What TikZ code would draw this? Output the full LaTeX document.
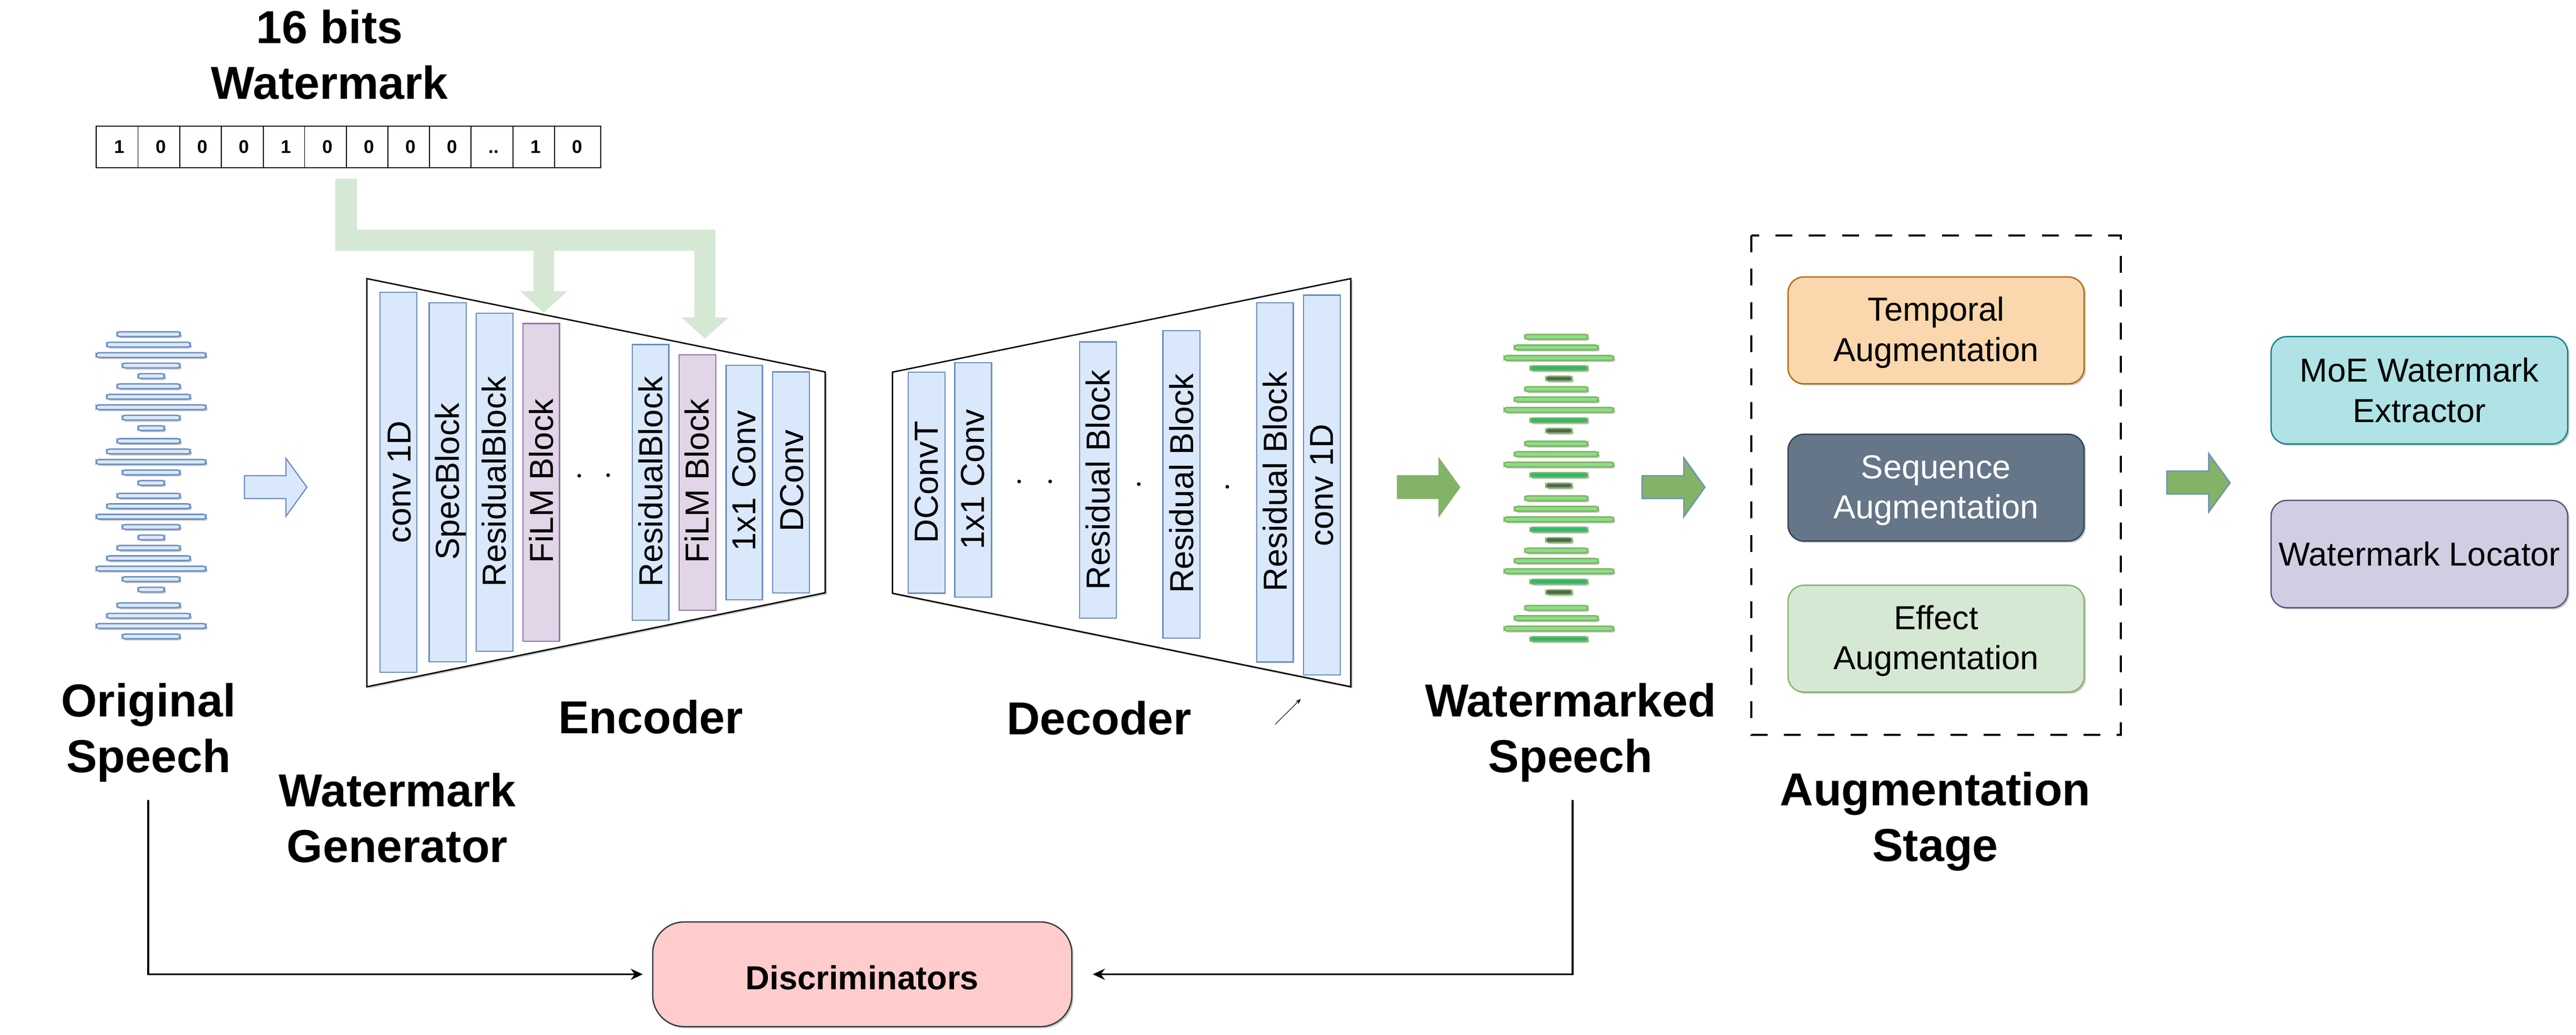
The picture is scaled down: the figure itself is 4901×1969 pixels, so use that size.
\documentclass[tikz,border=0pt]{standalone}
\usepackage{fontspec}
\setmainfont{Liberation Sans}
\usetikzlibrary{shadows,arrows.meta}
\definecolor{bluefill}{HTML}{DAE8FC}
\definecolor{bluedraw}{HTML}{6C8EBF}
\definecolor{purpfill}{HTML}{E1D5E7}
\definecolor{purpdraw}{HTML}{9673A6}
\definecolor{paleg}{HTML}{D5E8D4}
\definecolor{midg}{HTML}{82B366}
\definecolor{wavea}{HTML}{8ADF84}
\definecolor{waved}{HTML}{2DB96B}
\definecolor{wavee}{HTML}{52664F}
\definecolor{orfill}{HTML}{FAD7AC}
\definecolor{ordraw}{HTML}{B46504}
\definecolor{slfill}{HTML}{647687}
\definecolor{sldraw}{HTML}{314354}
\definecolor{tefill}{HTML}{B0E3E6}
\definecolor{tedraw}{HTML}{0E8088}
\definecolor{lafill}{HTML}{D0CEE2}
\definecolor{ladraw}{HTML}{56517E}
\definecolor{pkfill}{HTML}{FFCCCC}
\definecolor{pkdraw}{HTML}{36393D}
\tikzset{
  softshadow/.style={drop shadow={shadow xshift=0.9pt,shadow yshift=-0.9pt,opacity=0.22,fill=black}},
  biglabel/.style={font=\fontsize{25}{30.2}\selectfont\bfseries,align=center,inner sep=0pt},
  boxlabel/.style={font=\fontsize{18}{21.7}\selectfont,align=center,inner sep=0pt},
  roundbox/.style={boxlabel,rounded corners=8.5pt,line width=0.7pt,softshadow},
  blocklabel/.style={font=\fontsize{18}{21.6}\selectfont,rotate=90,anchor=base,inner sep=0pt},
  bluebk/.style={fill=bluefill,draw=bluedraw,line width=0.65pt,inner sep=0pt},
  purpbk/.style={fill=purpfill,draw=purpdraw,line width=0.65pt,inner sep=0pt},
  trapez/.style={fill=white,draw=black,line width=0.75pt,line join=miter,softshadow},
  bitcell/.style={draw=black,line width=0.55pt,fill=white},
  bittext/.style={font=\fontsize{10}{12}\selectfont\bfseries,anchor=base,inner sep=0pt},
  wavebar/.style={line width=0.75pt,rounded corners=1.3pt,softshadow},
  dotmark/.style={fill=black,circle,inner sep=0pt,minimum size=2pt},
  connect/.style={draw=black,line width=1.05pt,-{Stealth[length=6.5pt,width=6pt]}},
}
\newcommand{\blockbox}[6]{%
  \pgfmathsetmacro{\bw}{(#3-#2)*0.01}\pgfmathsetmacro{\bh}{(#5-#4)*0.01}%
  \node[#6,minimum width=\bw cm,minimum height=\bh cm] (#1) at ({(#2+#3)/2},{(#4+#5)/2}) {};}
\newcommand{\lowlines}[2]{\raisebox{-1.5pt}[\height][\depth]{\begin{tabular}{@{}c@{}}#1\\#2\end{tabular}}}
\begin{document}
\begin{tikzpicture}[x=0.01cm,y=-0.01cm]
\useasboundingbox (0,0) rectangle (4901,1969);

% watermark bits
\node[biglabel] (wmtitle) at (627,104) {16 bits\\Watermark};
\foreach \a/\b [count=\i] in {183/262.5,262.5/342,342/421,421/501,501/579.5,579.5/659,659/738,738/817,817/896,896/976,976/1055,1055/1143}
  \path[bitcell] (\a,240) rectangle (\b,319);
\foreach \x/\t [count=\i] in {226.8/1,306/0,385.7/0,464.3/0,543.8/1,623/0,702.7/0,781/0,860/0,939/..,1018.8/1,1098/0}
  \node[bittext] (bit\i) at (\x,291.7) {\t};

% wide green feed
\fill[paleg] (638,340) -- (679,340) -- (679,437) -- (1361,437) -- (1361,603.5) -- (1387,603.5)
  -- (1341,644) -- (1296,603.5) -- (1321,603.5) -- (1321,477) -- (1054,477) -- (1054,554) -- (1079,554)
  -- (1034.5,595) -- (990,554) -- (1015,554) -- (1015,477) -- (638,477) -- cycle;

% original speech
\foreach \y/\a/\b in {635.7/222.7/342.7,655.6/203/362,675.5/183/391.7,695.4/232.7/342.3,715.4/262.7/312.7,
  734.9/222.7/342.7,754.8/203/362,774.7/183/391.7,794.6/232.7/342.3,814.5/262.7/312.7,
  839/222.7/342.7,858.9/203/362,878.8/183/391.7,898.8/232.7/342.3,918.7/262.7/312.7,
  943.1/222.7/342.7,963/203/362,983/183/391.7,1002.5/232.7/342.3,1022.4/262.7/312.7,
  1042.3/222.7/342.7,1062/203/362,1081.8/183/391.7,1101.7/232.7/342.3,1121.6/262.7/312.7,
  1151.5/222.7/342.7,1171.4/203/362,1190.9/183/391.7,1210.8/232.7/342.3}
  \path[wavebar,fill=bluefill,draw=bluedraw] (\a,\y-4.5) rectangle (\b,\y+4.5);
\node[biglabel] (origlabel) at (282.5,1394) {Original\\Speech};

% arrow into the encoder
\path[fill=bluefill,draw=bluedraw,line width=0.65pt] (465,905) -- (544,905) -- (544,872) -- (584,927) -- (544,982) -- (544,948.5) -- (465,948.5) -- cycle;

% encoder
\path[trapez] (698,530) -- (1570,707.6) -- (1570,1127.6) -- (698,1306.5) -- cycle;
\blockbox{e1}{723}{793}{556}{1279}{bluebk}
\blockbox{e2}{816.5}{887}{576}{1259}{bluebk}
\blockbox{e3}{906}{976}{596}{1239}{bluebk}
\blockbox{e4}{995}{1064.6}{615.5}{1220}{purpbk}
\blockbox{e5}{1203}{1272.5}{655.5}{1180}{bluebk}
\blockbox{e6}{1292}{1362}{675}{1161}{purpbk}
\blockbox{e7}{1381.5}{1450.4}{695}{1141}{bluebk}
\blockbox{e8}{1470}{1540}{707.6}{1128}{bluebk}
\node[blocklabel] (t1) at (781,917) {conv 1D};
\node[blocklabel] (t2) at (873,916) {SpecBlock};
\node[blocklabel] (t3) at (962.5,916) {ResidualBlock};
\node[blocklabel] (t4) at (1052,915) {FiLM Block};
\node[blocklabel] (t5) at (1260,916) {ResidualBlock};
\node[blocklabel] (t6) at (1348,915) {FiLM Block};
\node[blocklabel] (t7) at (1437.6,914.6) {1x1 Conv};
\node[blocklabel] (t8) at (1528,914.6) {DConv};
\node[dotmark] (ed1) at (1102,905) {};
\node[dotmark] (ed2) at (1157,904) {};
\node[biglabel] (enclabel) at (1238,1364) {Encoder};
\node[biglabel] (genlabel) at (756,1556) {Watermark\\Generator};

% decoder
\path[trapez] (1698,708) -- (2570,530) -- (2570,1306.5) -- (1698,1128.6) -- cycle;
\blockbox{d1}{1728}{1798}{708}{1128.6}{bluebk}
\blockbox{d2}{1816.5}{1886.6}{690}{1136}{bluebk}
\blockbox{d3}{2054}{2124}{650.4}{1175.7}{bluebk}
\blockbox{d4}{2212.5}{2282.7}{629}{1214}{bluebk}
\blockbox{d5}{2391}{2460.6}{576}{1259.5}{bluebk}
\blockbox{d6}{2480}{2550}{561.4}{1284}{bluebk}
\node[blocklabel] (u1) at (1784,917) {DConvT};
\node[blocklabel] (u2) at (1872.6,912) {1x1 Conv};
\node[blocklabel] (u3) at (2111.8,913) {Residual Block};
\node[blocklabel] (u4) at (2270,919.6) {Residual Block};
\node[blocklabel] (u5) at (2448.5,916) {Residual Block};
\node[blocklabel] (u6) at (2536.5,923) {conv 1D};
\node[dotmark] (dd1) at (1939,916) {};
\node[dotmark] (dd2) at (1998,916) {};
\node[dotmark] (dd3) at (2166.6,921) {};
\node[dotmark] (dd4) at (2335,926) {};
\node[biglabel] (declabel) at (2091,1366) {Decoder};
\coordinate (stubA) at (2426,1378);
\coordinate (stubB) at (2475,1329.5);
\draw[line width=0.3pt,-{Stealth[length=3pt,width=2.2pt]}] (stubA) -- (stubB);

% arrow out of the decoder
\fill[midg] (2657.5,904) -- (2736.7,904) -- (2736.7,869) -- (2778.6,927) -- (2736.7,985) -- (2736.7,949.4) -- (2657.5,949.4) -- cycle;

% watermarked speech
\foreach \y/\a/\b/\f in {640.7/2901/3020.5/wavea,661/2881/3040.5/wavea,681/2861.6/3070/wavea,700.4/2911/3020.5/waved,720.3/2941/2991/wavee,
  740.2/2901/3020.5/wavea,759.8/2881/3040.5/wavea,779.7/2861.6/3070/wavea,799.6/2911/3020.5/waved,819.5/2941/2991/wavee,
  844/2901/3020.5/wavea,863.9/2881/3040.5/wavea,883.8/2861.6/3070/wavea,903.7/2911/3020.5/waved,923.7/2941/2991/wavee,
  948/2901/3020.5/wavea,968/2881/3040.5/wavea,988/2861.6/3070/wavea,1007.5/2911/3020.5/waved,1027.4/2941/2991/wavee,
  1047.3/2901/3020.5/wavea,1067/2881/3040.5/wavea,1086.7/2861.6/3070/wavea,1106.6/2911/3020.5/waved,1126.6/2941/2991/wavee,
  1156.4/2901/3020.5/wavea,1176/2881/3040.5/wavea,1195.8/2861.6/3070/wavea,1215.8/2911/3020.5/waved}
  \path[wavebar,fill=\f,draw=midg] (\a,\y-4.5) rectangle (\b,\y+4.5);
\node[biglabel] (wmklabel) at (2988,1394) {Watermarked\\Speech};

% arrow to augmentation
\path[fill=midg,draw=bluedraw,line width=0.65pt] (3124,905) -- (3203.5,905) -- (3203.5,870.5) -- (3243.8,927) -- (3203.5,983.4) -- (3203.5,948.5) -- (3124,948.5) -- cycle;

% augmentation stage
\draw[black,line width=1.2pt,dash pattern=on 9.1pt off 8.9pt] (3331.6,448) rectangle (4035,1398);
\node[roundbox,fill=orfill,draw=ordraw,minimum width=5.63cm,minimum height=2.03cm] (temporal) at (3683.5,628.5) {\lowlines{Temporal}{Augmentation}};
\node[roundbox,fill=slfill,draw=sldraw,text=white,minimum width=5.63cm,minimum height=2.03cm] (sequence) at (3683.5,927.75) {\lowlines{Sequence}{Augmentation}};
\node[roundbox,fill=paleg,draw=midg,minimum width=5.63cm,minimum height=2.03cm] (effect) at (3683.5,1215) {\lowlines{Effect}{Augmentation}};
\node[biglabel] (auglabel) at (3682,1563) {Augmentation\\Stage};

% arrow to the extractors
\path[fill=midg,draw=bluedraw,line width=0.65pt] (4122.4,896) -- (4202,896) -- (4202,862.4) -- (4243,918.5) -- (4202,974.6) -- (4202,940) -- (4122.4,940) -- cycle;

\node[roundbox,fill=tefill,draw=tedraw,minimum width=5.64cm,minimum height=2.04cm] (moe) at (4603,742.5) {MoE Watermark\\Extractor};
\node[roundbox,fill=lafill,draw=ladraw,minimum width=5.64cm,minimum height=2.04cm] (locator) at (4603,1054) {Watermark Locator};

% discriminators
\node[fill=pkfill,draw=pkdraw,line width=0.7pt,rounded corners=17pt,softshadow,font=\fontsize{18}{21.6}\selectfont\bfseries,minimum width=7.97cm,minimum height=1.99cm,inner sep=0pt] (disc) at (1640.5,1853.5) {\raisebox{-1.7pt}[\height][\depth]{Discriminators}};
\coordinate (origout) at (282,1522);
\coordinate (wmkout) at (2992,1522);
\draw[connect,shorten >=5pt] (origout) |- (disc.west);
\draw[connect,shorten >=11pt] (wmkout) |- (disc.east);
\end{tikzpicture}
\end{document}
